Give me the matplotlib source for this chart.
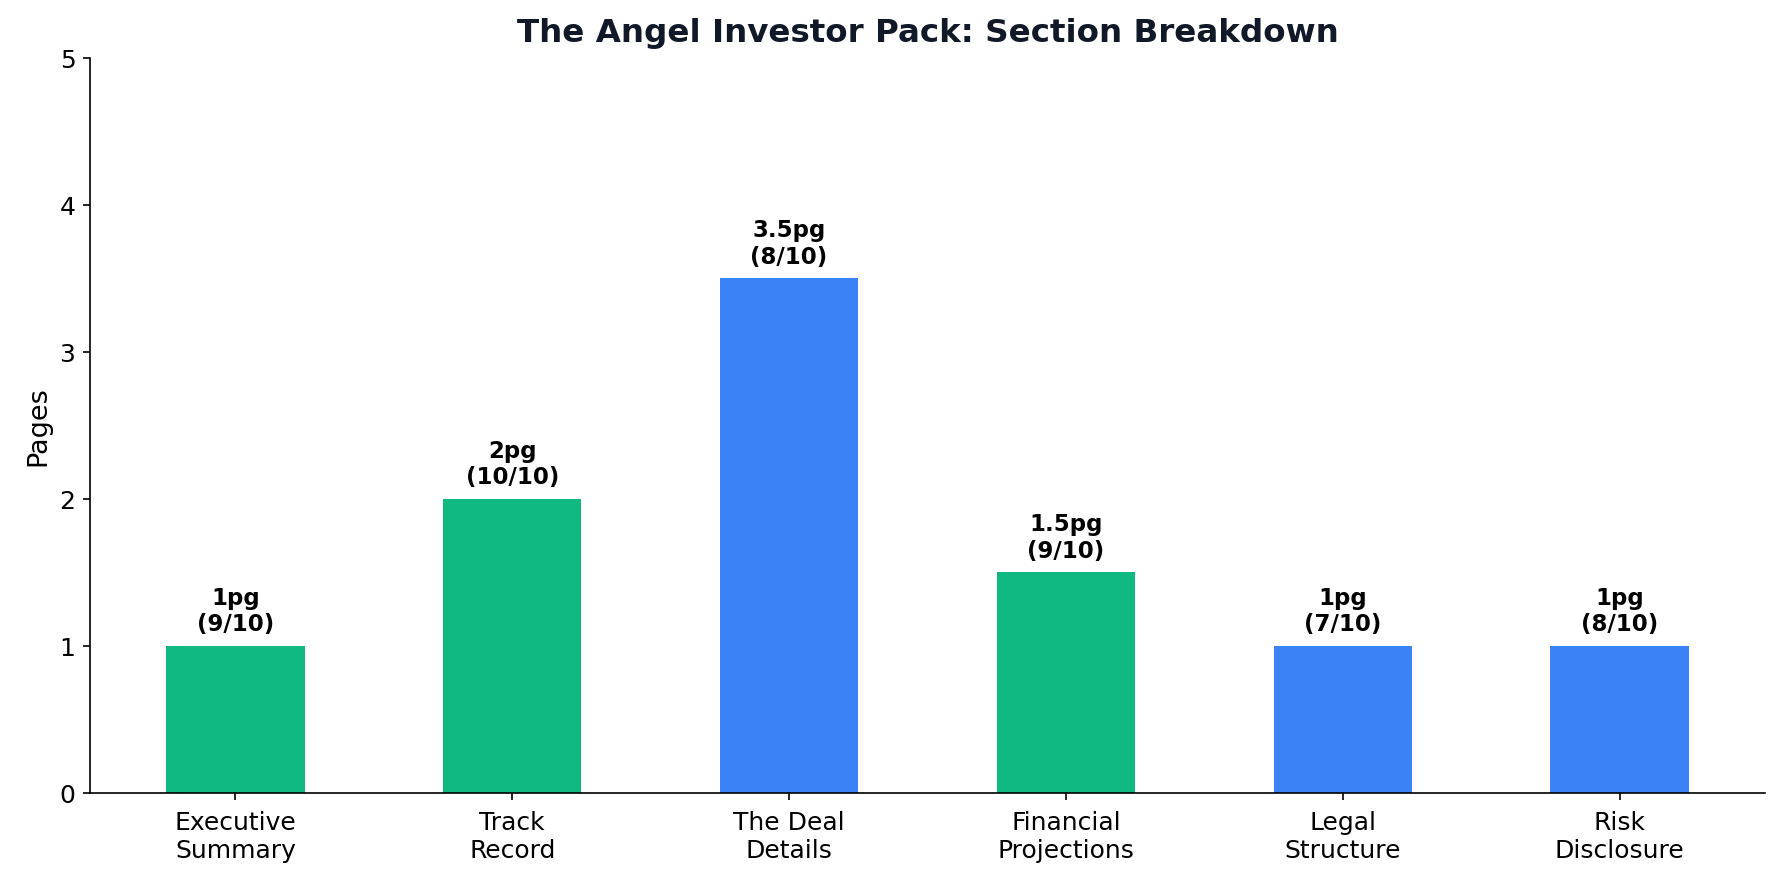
import numpy as np
import matplotlib.pyplot as plt

# section data
sections = ['Executive\nSummary', 'Track\nRecord', 'The Deal\nDetails',
            'Financial\nProjections', 'Legal\nStructure', 'Risk\nDisclosure']
pages = [1, 2, 3.5, 1.5, 1, 1]
page_labels = ['1pg', '2pg', '3.5pg', '1.5pg', '1pg', '1pg']
scores = ['9/10', '10/10', '8/10', '9/10', '7/10', '8/10']
bar_colors = ['#10B981', '#10B981', '#3B82F6', '#10B981', '#3B82F6', '#3B82F6']

fig = plt.figure(figsize=(1783/150, 880/150), dpi=150)
ax = fig.add_axes([90/1783, 1 - 793.5/880, (1765-90)/1783, (793.5-59)/880])

x = np.arange(len(sections))
ax.bar(x, pages, width=0.5, color=bar_colors)

for xi, p, lab, sc in zip(x, pages, page_labels, scores):
    ax.text(xi, p + 0.07, f'{lab}\n({sc})', ha='center', va='bottom',
            fontsize=11, fontweight='bold')

ax.set_xticks(x)
ax.set_xticklabels(sections, fontsize=12)
ax.tick_params(axis='x', pad=5)
ax.set_ylim(0, 5)
ax.tick_params(axis='y', labelsize=12)
ax.set_ylabel('Pages', fontsize=13)
ax.set_title('The Angel Investor Pack: Section Breakdown', fontsize=15.6,
             fontweight='bold', color='#111827', pad=8)
ax.spines['top'].set_visible(False)
ax.spines['right'].set_visible(False)

fig.savefig('out.png', dpi=150)
